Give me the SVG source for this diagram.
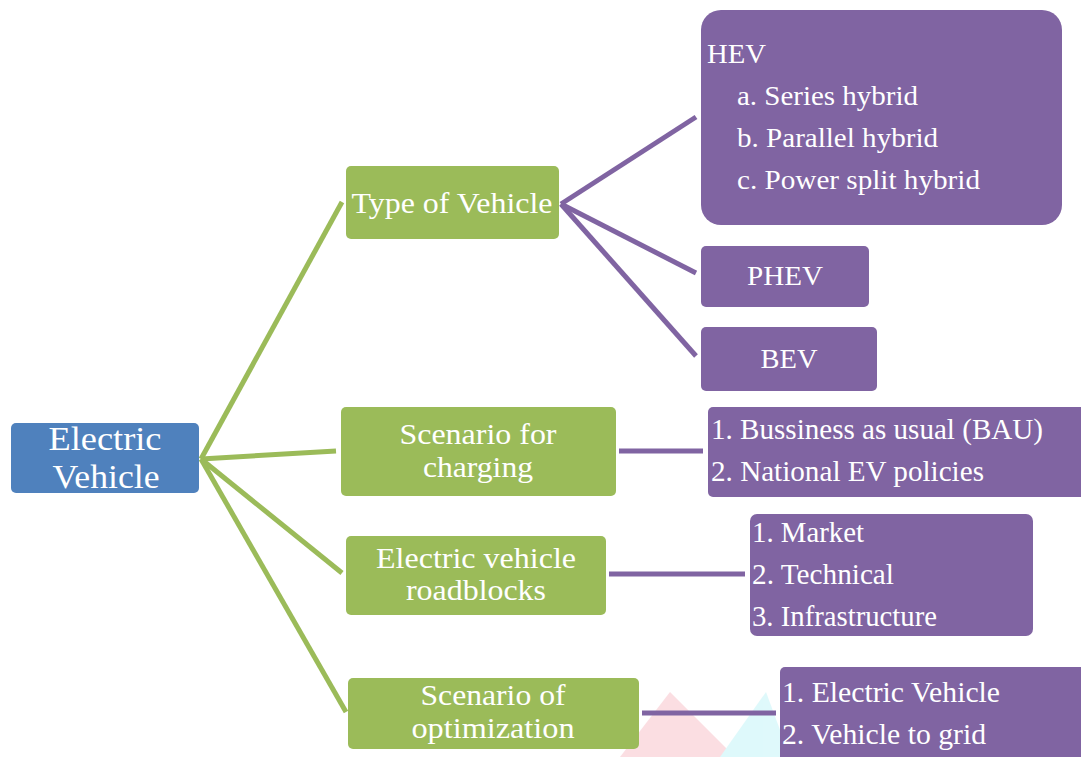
<svg xmlns="http://www.w3.org/2000/svg" width="1081" height="757" viewBox="0 0 1081 757">
<style>
.t{font-family:'Liberation Serif', 'Times New Roman', serif;fill:#ffffff;}
.c{text-anchor:middle;}
.root{fill:#4F81BD;}
.mid{fill:#9BBB59;}
.leaf{fill:#8064A2;}
.gl{stroke:#9BBB59;stroke-width:5;fill:none;}
.pl{stroke:#8064A2;stroke-width:5;fill:none;}
</style>
<rect width="1081" height="757" fill="#ffffff"/>
<g id="watermark" opacity="0.25">
<polygon points="670,692 620,757 735,757" fill="#F08090"/>
<polygon points="766,692 720,757 790,757" fill="#80E8F0"/>
</g>
<g id="connectors">
<line class="gl" x1="201" y1="459" x2="342" y2="202"/>
<line class="gl" x1="201" y1="459" x2="336" y2="451"/>
<line class="gl" x1="201" y1="459" x2="342" y2="573"/>
<line class="gl" x1="201" y1="459" x2="346" y2="712"/>
<line class="pl" x1="561" y1="204" x2="696" y2="117"/>
<line class="pl" x1="561" y1="204" x2="696" y2="273"/>
<line class="pl" x1="561" y1="204" x2="696" y2="356"/>
<line class="pl" x1="619" y1="451" x2="703" y2="451"/>
<line class="pl" x1="609" y1="574" x2="745" y2="574"/>
<line class="pl" x1="642" y1="713" x2="776" y2="713"/>
</g>
<g id="electric-vehicle">
<rect class="root" x="11" y="423" width="188" height="70" rx="5"/>
<text class="t c" x="105" y="450" font-size="34" textLength="113" lengthAdjust="spacingAndGlyphs">Electric</text>
<text class="t c" x="106" y="488" font-size="34" textLength="107" lengthAdjust="spacingAndGlyphs">Vehicle</text>
</g>
<g id="type-of-vehicle">
<rect class="mid" x="346" y="166" width="213" height="73" rx="5"/>
<text class="t c" x="452" y="213" font-size="30" textLength="201" lengthAdjust="spacingAndGlyphs">Type of Vehicle</text>
</g>
<g id="scenario-charging">
<rect class="mid" x="341" y="407" width="275" height="89" rx="5"/>
<text class="t c" x="478" y="444" font-size="30" textLength="157" lengthAdjust="spacingAndGlyphs">Scenario for</text>
<text class="t c" x="478" y="477" font-size="30" textLength="110" lengthAdjust="spacingAndGlyphs">charging</text>
</g>
<g id="roadblocks">
<rect class="mid" x="346" y="536" width="260" height="79" rx="5"/>
<text class="t c" x="476" y="568" font-size="30" textLength="200" lengthAdjust="spacingAndGlyphs">Electric vehicle</text>
<text class="t c" x="476" y="600" font-size="30" textLength="140" lengthAdjust="spacingAndGlyphs">roadblocks</text>
</g>
<g id="scenario-optimization">
<rect class="mid" x="348" y="678" width="291" height="71" rx="5"/>
<text class="t c" x="493" y="705" font-size="30" textLength="145" lengthAdjust="spacingAndGlyphs">Scenario of</text>
<text class="t c" x="493" y="738" font-size="30" textLength="163" lengthAdjust="spacingAndGlyphs">optimization</text>
</g>
<g id="hev">
<rect class="leaf" x="701" y="10" width="361" height="215" rx="20"/>
<text class="t" x="707" y="63" font-size="28" textLength="59" lengthAdjust="spacingAndGlyphs">HEV</text>
<text class="t" x="737" y="105" font-size="28" textLength="181" lengthAdjust="spacingAndGlyphs">a. Series hybrid</text>
<text class="t" x="737" y="147" font-size="28" textLength="201" lengthAdjust="spacingAndGlyphs">b. Parallel hybrid</text>
<text class="t" x="737" y="189" font-size="28" textLength="243" lengthAdjust="spacingAndGlyphs">c. Power split hybrid</text>
</g>
<g id="phev">
<rect class="leaf" x="701" y="246" width="168" height="61" rx="5"/>
<text class="t c" x="785" y="285" font-size="28" textLength="76" lengthAdjust="spacingAndGlyphs">PHEV</text>
</g>
<g id="bev">
<rect class="leaf" x="701" y="327" width="176" height="64" rx="5"/>
<text class="t c" x="789" y="368" font-size="28" textLength="57" lengthAdjust="spacingAndGlyphs">BEV</text>
</g>
<g id="charging-list">
<rect class="leaf" x="708" y="407" width="380" height="90" rx="5"/>
<text class="t" x="711" y="439" font-size="29" textLength="332" lengthAdjust="spacingAndGlyphs">1. Bussiness as usual (BAU)</text>
<text class="t" x="711" y="481" font-size="29" textLength="273" lengthAdjust="spacingAndGlyphs">2. National EV policies</text>
</g>
<g id="roadblocks-list">
<rect class="leaf" x="750" y="514" width="283" height="122" rx="7"/>
<text class="t" x="752" y="542" font-size="29" textLength="112" lengthAdjust="spacingAndGlyphs">1. Market</text>
<text class="t" x="752" y="584" font-size="29" textLength="142" lengthAdjust="spacingAndGlyphs">2. Technical</text>
<text class="t" x="752" y="626" font-size="29" textLength="185" lengthAdjust="spacingAndGlyphs">3. Infrastructure</text>
</g>
<g id="optimization-list">
<rect class="leaf" x="780" y="667" width="310" height="100" rx="5"/>
<text class="t" x="782" y="702" font-size="29" textLength="218" lengthAdjust="spacingAndGlyphs">1. Electric Vehicle</text>
<text class="t" x="782" y="744" font-size="29" textLength="204" lengthAdjust="spacingAndGlyphs">2. Vehicle to grid</text>
</g>
</svg>
